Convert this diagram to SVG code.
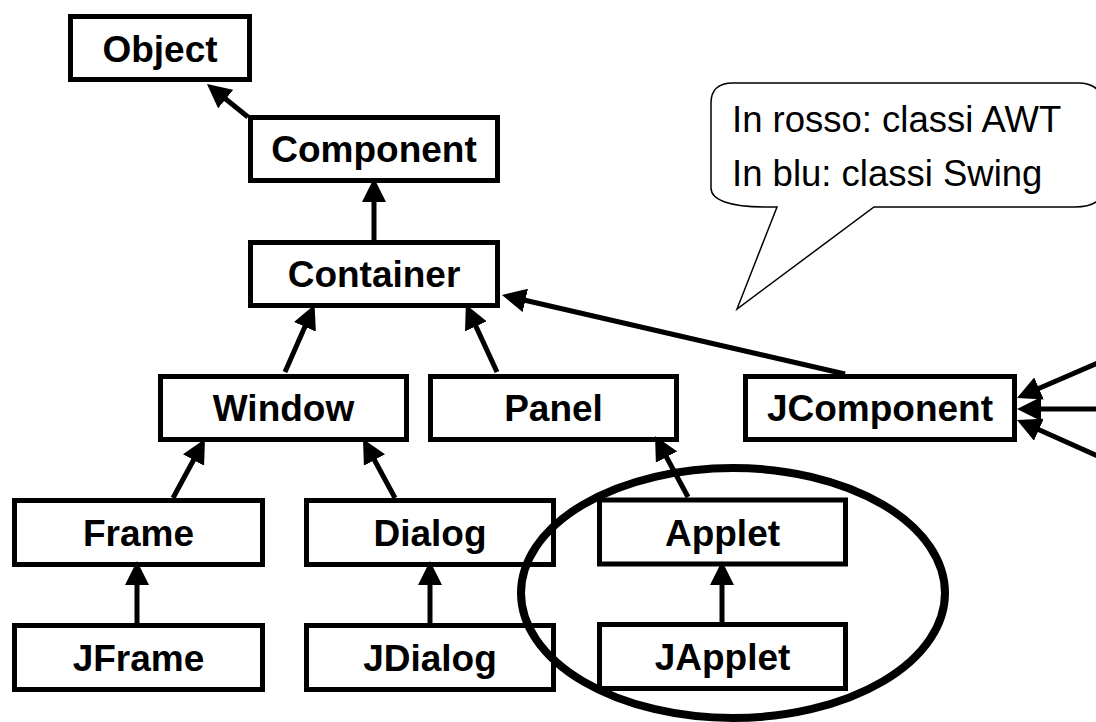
<svg xmlns="http://www.w3.org/2000/svg" width="1096" height="722" viewBox="0 0 1096 722">
<defs>
<style>
.box{fill:#fff;stroke:#000;stroke-width:5}
.lbl{font-family:"Liberation Sans",Arial,sans-serif;font-weight:bold;font-size:37px;text-anchor:middle;fill:#000}
.note{font-family:"Liberation Sans",Arial,sans-serif;font-size:36.5px;fill:#000}
.edge{stroke:#000;stroke-width:5;fill:none;marker-end:url(#tri)}
</style>
<marker id="tri" markerUnits="userSpaceOnUse" markerWidth="24" markerHeight="24" viewBox="0 0 24 24" refX="6" refY="12" orient="auto">
<path d="M0,0 L24,12 L0,24 Z" fill="#000"/>
</marker>
</defs>
<rect width="1096" height="722" fill="#fff"/>

<g id="callout">
<path d="M733,83 H1078 Q1104,83 1104,110 V185 Q1104,207 1075,207 H874 L737,309 L777,207 H765 C730,207 711,200 711,188 V103 Q711,83 733,83 Z" fill="#fff" stroke="#000" stroke-width="1.5"/>
<text class="note" x="732" y="132">In rosso: classi AWT</text>
<text class="note" x="732" y="186">In blu: classi Swing</text>
</g>

<g id="node-object"><rect class="box" x="70.5" y="16.5" width="179" height="63"/><text class="lbl" x="160" y="61.5">Object</text></g>
<g id="node-component"><rect class="box" x="250.5" y="117.5" width="247" height="63"/><text class="lbl" x="374" y="162">Component</text></g>
<g id="node-container"><rect class="box" x="250.5" y="242.5" width="247" height="63"/><text class="lbl" x="374" y="287">Container</text></g>
<g id="node-window"><rect class="box" x="160.5" y="376.5" width="246" height="63"/><text class="lbl" x="283.5" y="421">Window</text></g>
<g id="node-panel"><rect class="box" x="430.5" y="376.5" width="246" height="63"/><text class="lbl" x="553.5" y="421">Panel</text></g>
<g id="node-jcomponent"><rect class="box" x="745.5" y="376.5" width="269" height="63"/><text class="lbl" x="880" y="421">JComponent</text></g>
<g id="node-frame"><rect class="box" x="14.5" y="500.5" width="248" height="64"/><text class="lbl" x="138.5" y="546">Frame</text></g>
<g id="node-dialog"><rect class="box" x="306.5" y="500.5" width="247" height="64"/><text class="lbl" x="430" y="546">Dialog</text></g>
<g id="node-applet"><rect class="box" x="599.5" y="500" width="246" height="64"/><text class="lbl" x="722.5" y="546">Applet</text></g>
<g id="node-jframe"><rect class="box" x="14.5" y="625.5" width="248" height="64"/><text class="lbl" x="138.5" y="671">JFrame</text></g>
<g id="node-jdialog"><rect class="box" x="306.5" y="625.5" width="247" height="64"/><text class="lbl" x="430" y="671">JDialog</text></g>
<g id="node-japplet"><rect class="box" x="599.5" y="624.5" width="246" height="64"/><text class="lbl" x="722.5" y="670">JApplet</text></g>

<g id="connectors">
<line class="edge" x1="248" y1="117" x2="221" y2="95.3"/>
<line class="edge" x1="374" y1="240" x2="374" y2="196"/>
<line class="edge" x1="285" y1="372" x2="307.3" y2="321.3"/>
<line class="edge" x1="497" y1="372" x2="473.4" y2="320.9"/>
<line class="edge" x1="845" y1="374" x2="519.5" y2="299"/>
<line class="edge" x1="173" y1="498" x2="196.4" y2="454.8"/>
<line class="edge" x1="395" y1="498" x2="371.6" y2="454.8"/>
<line class="edge" x1="137" y1="623" x2="137" y2="579"/>
<line class="edge" x1="430" y1="623" x2="430" y2="579"/>
<line class="edge" x1="722" y1="622" x2="722" y2="579"/>
<line class="edge" x1="688" y1="497" x2="663.6" y2="451.8"/>
<line class="edge" x1="1100" y1="362" x2="1033.5" y2="390.8"/>
<line class="edge" x1="1100" y1="409" x2="1035" y2="409"/>
<line class="edge" x1="1100" y1="457" x2="1033.4" y2="427.3"/>
</g>

<ellipse id="highlight" cx="733" cy="593" rx="212" ry="125" fill="none" stroke="#000" stroke-width="8"/>
</svg>
